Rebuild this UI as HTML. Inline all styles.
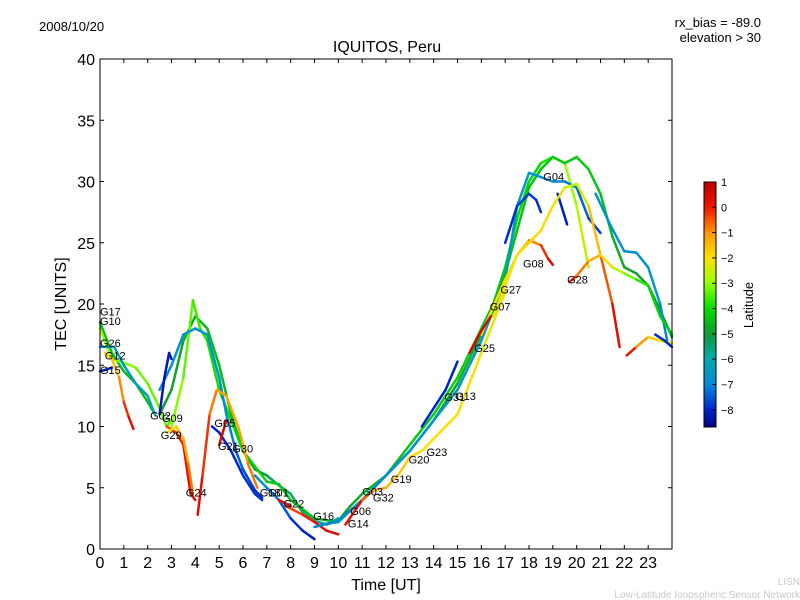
<!DOCTYPE html>
<html><head><meta charset="utf-8"><style>
body{margin:0;background:#fff;}
svg{display:block;font-family:"Liberation Sans",sans-serif;}
</style></head><body>
<svg id="chart" width="800" height="600" xmlns="http://www.w3.org/2000/svg">
<defs>
<linearGradient id="cbg" x1="0" y1="1" x2="0" y2="0">
<stop offset="0" stop-color="#000080"/>
<stop offset="0.07" stop-color="#0022cc"/>
<stop offset="0.17" stop-color="#0088dd"/>
<stop offset="0.28" stop-color="#00aaaa"/>
<stop offset="0.38" stop-color="#119933"/>
<stop offset="0.48" stop-color="#00dd00"/>
<stop offset="0.59" stop-color="#99ff00"/>
<stop offset="0.69" stop-color="#ffe000"/>
<stop offset="0.79" stop-color="#ff9900"/>
<stop offset="0.9" stop-color="#ee1100"/>
<stop offset="1" stop-color="#bb0000"/>
</linearGradient>
</defs>
<rect width="800" height="600" fill="#fff"/>
<text x="39" y="31" font-size="13">2008/10/20</text>
<text x="387" y="52" font-size="16" text-anchor="middle">IQUITOS, Peru</text>
<text x="761" y="27" font-size="13" text-anchor="end">rx_bias = -89.0</text>
<text x="761" y="42" font-size="13" text-anchor="end">elevation &gt; 30</text>
<text x="386" y="590" font-size="16" text-anchor="middle">Time [UT]</text>
<text x="0" y="0" font-size="16" text-anchor="middle" transform="translate(66,304) rotate(-90)">TEC [UNITS]</text>
<text x="800" y="585" font-size="10" fill="#c8c8c8" text-anchor="end">LISN</text>
<text x="800" y="598" font-size="10" fill="#c8c8c8" text-anchor="end">Low-Latitude Ionospheric Sensor Network</text>
<g id="series"></g>
<g id="labels"></g>
<rect x="100" y="59" width="572" height="490" fill="none" stroke="#000" stroke-width="1"/>
<g id="axes"></g>
<rect x="704" y="182" width="12" height="245" fill="url(#cbg)" stroke="#000" stroke-width="1"/>
<g id="cbticks"></g>
<text x="0" y="0" font-size="13" text-anchor="middle" transform="translate(753,305) rotate(-90)">Latitude</text>
</svg>
<script>
const xTicks=[0,1,2,3,4,5,6,7,8,9,10,11,12,13,14,15,16,17,18,19,20,21,22,23];
const yTicks=[0,5,10,15,20,25,30,35,40];
const cbTicks=[1,0,-1,-2,-3,-4,-5,-6,-7,-8];
// tracks: times, TEC values, latitudes
const trackTimes=[
[0,0.5,1,1.5,2,2.3],
[0,0.5,1,1.5,2,2.5,2.8,3],
[0,0.6,1,1.5,2,2.3],
[0.2,0.5,0.8,1,1.2,1.4],
[0,0.5],
[2.5,3,3.5,4,4.5,5,5.5,6,6.5,7,7.5,8,8.5,9,9.5,10],
[3,3.5,3.9,4.2,4.5,5,5.5,6,7,7.5,8,9,10],
[2.5,3,3.5,4,4.5,5,5.3,5.7,6,6.5,6.8],
[2.5,2.7,2.9,3],
[2.8,3.2,3.5,3.8,4],
[4.1,4.3,4.6,4.9,5.3,5.8,6.2,6.6],
[2.8,3.2,3.5,3.7,3.9],
[4.7,5,5.5,6,6.5,6.8],
[5,5.3],
[6.5,7,7.5,8,8.5,9],
[7.8,8.5,9,9.5,10],
[7.5,8],
[9.5,10,10.5,11,12,13,14,15,16,16.5,17,17.5,18,18.5,19,19.5,20,20.5],
[9.3,10,11,12,13,14,15,16,17,17.5,18,18.5,19,19.5,20,20.5,21,21.5,22,22.5,23,23.5,24],
[9,10,11,12,13,14,15,16,17,17.5,18,18.3,19,19.5,20,20.5,21],
[17,17.5,18,18.3,18.5],
[19.2,19.6],
[16,17,17.5,18,18.5,18.8,19],
[16.5,17.5,18.5,19,19.5,20,20.5,21,21.5,21.8],
[20.8,21.4,22,22.5,23,23.5,23.8],
[19.7,20,20.5,21,21.5,22,22.5,23,23.5,24],
[22.1,22.5,23,23.5,24],
[23.3,23.7,24],
[15.5,16,16.4],
[13.5,14.5,15],
[10.3,11,11.5,12,12.5,13,13.5,14,14.5,15,16,17]
];
const trackValues=[
[18.5,16,14.5,13.5,12,11],
[18,15.5,15.2,14.8,13.5,11.5,10,10.5],
[16.5,16.5,15,13.5,12.5,11],
[16,15.5,14,12,10.8,9.8],
[14.5,14.8],
[11,13,17,19,18,15,11,8,6.5,6,5.2,4.5,3,2.3,2,2.5],
[10,14,20.3,18,17,13,10.5,8,5.5,5.3,4,2.5,2.2],
[13,15,17.5,18,17.5,14,11,8,6.5,4.8,4.2],
[11,14,16,15.5],
[10,9.5,8.5,4.5,4],
[2.8,6,11,13,12.5,10,7,5],
[9.5,10,9,7,4.5],
[10,9.5,8,6,4.5,4],
[8.5,10.5],
[6,5,4,2.5,1.5,0.8],
[3.5,2.8,2.2,1.5,1.2],
[4,3.5],
[2,2.3,3.5,4.5,6,8.5,11,14,18,20,23,27,30,31.5,32,31.5,28,23],
[2,2.2,4,6,8,10.5,13.5,17.5,22.5,26,29.5,31,32,31.5,32,31,29,25.5,23,22.5,21.5,19.5,17.3],
[1.8,2.3,4,6,8,10.5,13,17,22,28,30.7,30.5,30,30,29.5,27,25.8],
[25,28,29,28.5,27.5],
[29,26.5],
[17.5,22,24,25.2,24.8,23.7,23.2],
[19,24,26,28,29.5,29.8,28,24,20,16.5],
[29,26.5,24.3,24.2,23,20,17],
[21.8,22.3,23.5,24,23,22.5,22,21.5,19,17.5],
[15.8,16.5,17.3,17,16.8],
[17.5,17,16.5],
[16,17.8,19],
[10,13,15.3],
[2,4,4.8,5,6,7.5,8,9,10,11,16,21]
];
const trackLats=[
[-4.5,-4.5,-4.5,-4.5,-4.5,-4.5],
[-3,-3,-3,-3.2,-3.3,-3.3,-3.4,-3.5],
[-6.5,-6.5,-6.4,-6.3,-6.2,-6],
[-2,-1.8,-1.3,-0.5,0,0.5],
[-8,-8],
[-5,-5,-4.8,-4.6,-4.5,-4.5,-4.6,-4.8,-5,-5.2,-5.4,-5.5,-5.6,-5.8,-6,-6],
[-3,-3.2,-3.5,-3.7,-3.8,-4,-4,-4.1,-4.2,-4.3,-4.4,-4.5,-4.6],
[-6.8,-6.8,-6.7,-6.6,-6.6,-6.7,-6.9,-7.2,-7.5,-7.8,-8],
[-8.2,-8.2,-8.2,-8.2],
[-0.5,-0.3,0,0.3,0.5],
[0.3,0,-0.5,-1,-1.2,-1.2,-1,-0.5],
[-2,-1.8,-1.5,-1,-0.5],
[-8,-8,-8,-7.9,-7.8,-7.8],
[0.5,0.5],
[-6.5,-7,-7.3,-7.7,-8,-8.2],
[-0.5,-0.2,0,0.3,0.5],
[0.3,0.3],
[-5,-5,-4.8,-4.7,-4.5,-4.3,-4.2,-4.2,-4.2,-4.2,-4.2,-4.1,-4,-4,-3.6,-3.2,-2.8,-2.5],
[-5.5,-5.5,-5.3,-5.2,-5,-5,-4.8,-4.6,-4.5,-4.4,-4.4,-4.3,-4.3,-4.3,-4.2,-4.2,-4.4,-4.6,-4.8,-5,-5,-5,-5],
[-7,-7,-6.9,-6.8,-6.7,-6.6,-6.6,-6.6,-6.6,-6.6,-6.6,-6.6,-6.8,-7,-7.2,-7.5,-8],
[-8,-7.8,-7.7,-7.8,-8],
[-8,-8.2],
[-2,-2,-1.8,-1.2,-0.5,0,0.5],
[-2.2,-2,-1.8,-2,-2.4,-2.8,-2,-1,0,0.5],
[-6.5,-6.6,-6.8,-6.8,-6.5,-6.5,-7.5],
[0.3,-0.5,-1,-1.5,-2.5,-3,-3.5,-4,-4.2,-4.3],
[0.5,-0.5,-1.5,-2,-2.5],
[-7.8,-8,-8],
[0.5,0.5,0.5],
[-8,-8,-8],
[0.5,-0.3,-0.8,-1.3,-1.6,-1.8,-2,-2,-2,-2,-2.2,-2.4]
];
const labelNames=["G17","G10","G26","G12","G15","G02","G09","G29","G24","G05","G21","G30","G18","G01","G22","G16","G06","G14","G03","G32","G19","G20","G23","G31","G13","G25","G07","G27","G08","G04","G28"];
const labelT=[0,0,0,0.2,0,2.1,2.6,2.55,3.6,4.8,4.95,5.55,6.7,7.05,7.7,8.95,10.5,10.4,11,11.45,12.2,12.95,13.7,14.45,14.9,15.7,16.35,16.8,17.75,18.6,19.6];
const labelV=[19.4,18.6,16.8,15.8,14.6,10.9,10.7,9.3,4.6,10.3,8.4,8.2,4.6,4.6,3.7,2.7,3.1,2.1,4.7,4.2,5.7,7.3,7.9,12.4,12.5,16.4,19.8,21.2,23.3,30.4,22];

const X0=100,X1=672,Y0=549,Y1=59;
const xs=t=>X0+t/24*(X1-X0);
const ys=v=>Y0-v/40*(Y0-Y1);
const cbY=l=>427-(l+8.68)/9.68*245;
const stops=[[-8.68,[0,0,128]],[-8,[0,34,204]],[-7,[0,136,221]],[-6,[0,170,170]],[-5,[17,153,51]],[-4,[0,221,0]],[-3,[153,255,0]],[-2,[255,224,0]],[-1,[255,153,0]],[0,[238,17,0]],[1,[187,0,0]]];
function col(l){
  if(l<=stops[0][0])return 'rgb('+stops[0][1]+')';
  for(let i=1;i<stops.length;i++){
    if(l<=stops[i][0]){const a=stops[i-1],b=stops[i];const f=(l-a[0])/(b[0]-a[0]);
      const c=a[1].map((v,k)=>Math.round(v+(b[1][k]-v)*f));return 'rgb('+c.join(',')+')';}
  }
  return 'rgb(187,0,0)';
}
const NS='http://www.w3.org/2000/svg';
const g=document.getElementById('series');
trackTimes.forEach((ts,ti)=>{
  const vs=trackValues[ti],ls=trackLats[ti];
  const grp=document.createElementNS(NS,'g');
  
  
  for(let i=0;i<ts.length-1;i++){
    const ln=document.createElementNS(NS,'line');
    ln.setAttribute('x1',xs(ts[i]).toFixed(1));ln.setAttribute('y1',ys(vs[i]).toFixed(1));
    ln.setAttribute('x2',xs(ts[i+1]).toFixed(1));ln.setAttribute('y2',ys(vs[i+1]).toFixed(1));
    ln.setAttribute('stroke',col((ls[i]+ls[i+1])/2));ln.setAttribute('stroke-width','2.5');
    ln.setAttribute('stroke-linecap','round');
    
    
    grp.appendChild(ln);
  }
  g.appendChild(grp);
});
const lg=document.getElementById('labels');
labelNames.forEach((n,i)=>{
  const t=document.createElementNS(NS,'text');
  t.setAttribute('x',xs(labelT[i]).toFixed(1));t.setAttribute('y',(ys(labelV[i])+4).toFixed(1));
  t.setAttribute('font-size','11');t.textContent=n;
  
  
  lg.appendChild(t);
});
const ax=document.getElementById('axes');
function mk(tag,attrs,txt){const e=document.createElementNS(NS,tag);for(const k in attrs)e.setAttribute(k,attrs[k]);if(txt!==undefined)e.textContent=txt;return e;}
xTicks.forEach(t=>{
  const x=xs(t);
  const a=mk('line',{x1:x,y1:Y0,x2:x,y2:Y0-4,stroke:'#000'});ax.appendChild(a);
  const b=mk('line',{x1:x,y1:Y1,x2:x,y2:Y1+4,stroke:'#000'});ax.appendChild(b);
  const l=mk('text',{x:x,y:568,'font-size':16,'text-anchor':'middle'},String(t));ax.appendChild(l);
});
yTicks.forEach(v=>{
  const y=ys(v);
  const a=mk('line',{x1:X0,y1:y,x2:X0+4,y2:y,stroke:'#000'});ax.appendChild(a);
  const b=mk('line',{x1:X1,y1:y,x2:X1-4,y2:y,stroke:'#000'});ax.appendChild(b);
  const l=mk('text',{x:95,y:y+6,'font-size':16,'text-anchor':'end'},String(v));ax.appendChild(l);
});
const cb=document.getElementById('cbticks');
cbTicks.forEach(v=>{
  const y=cbY(v);
  const a=mk('line',{x1:712,y1:y,x2:716,y2:y,stroke:'#000'});cb.appendChild(a);
  const l=mk('text',{x:721,y:y+4,'font-size':11},v<0?'\u2212'+(-v):String(v));cb.appendChild(l);
});
</script>
</body></html>
